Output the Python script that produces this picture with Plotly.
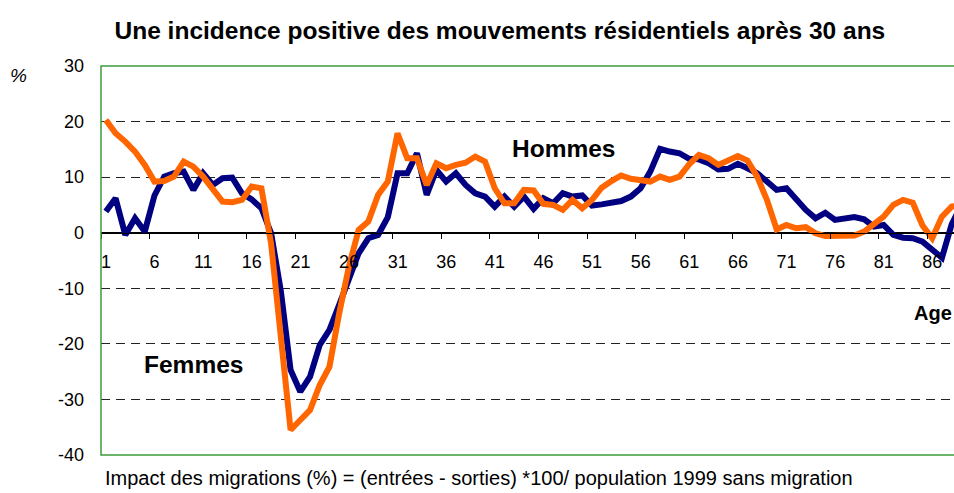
import plotly.graph_objects as go

ages = list(range(1, 90))

hommes = [3.8, 6.2, -0.4, 2.6, 0.2, 6.7, 10.1, 10.7, 11.0, 7.7,
          10.7, 8.6, 9.8, 9.9, 7.1, 6.0, 4.4, -0.1, -10.5, -24.7,
          -28.6, -25.9, -20.2, -17.5, -13.0, -8.5, -3.7, -1.0, -0.4, 2.8,
          10.7, 10.7, 14.3, 6.8, 11.3, 9.2, 10.7, 8.6, 7.1, 6.5,
          4.7, 6.5, 4.7, 6.5, 4.3, 6.2, 5.3, 7.1, 6.5, 6.7,
          4.9, 5.1, 5.3, 5.7, 6.5, 8.0, 11.0, 15.1, 14.6, 14.3,
          13.3, 13.2, 12.5, 11.4, 11.5, 12.4, 11.6, 10.7, 9.2, 7.7,
          8.0, 5.9, 4.1, 2.6, 3.6, 2.3, 2.6, 2.8, 2.4, 1.1,
          1.4, -0.4, -0.9, -1.0, -1.6, -3.1, -4.5, 1.5, 5.0]

femmes = [20.3, 17.9, 16.4, 14.6, 12.2, 9.2, 9.3, 10.1, 12.8, 11.9,
          10.1, 8.0, 5.6, 5.5, 5.9, 8.3, 8.0, -2.0, -20.0, -35.5,
          -33.7, -31.9, -27.4, -24.1, -14.5, -6.1, 0.5, 2.0, 6.8, 9.2,
          17.9, 13.4, 13.4, 8.6, 12.5, 11.6, 12.2, 12.6, 13.7, 12.8,
          8.0, 5.3, 5.3, 7.7, 7.6, 5.2, 5.0, 4.1, 5.9, 4.4,
          5.9, 8.1, 9.3, 10.3, 9.7, 9.5, 9.2, 10.1, 9.5, 10.1,
          12.3, 14.0, 13.4, 12.2, 13.0, 13.8, 13.0, 10.1, 5.9, 0.6,
          1.4, 0.8, 1.0, -0.1, -0.6, -0.6, -0.7, -0.5, 0.2, 1.4,
          2.9, 5.0, 5.9, 5.4, 1.3, -1.0, 2.9, 4.7, 5.0]

x_labels = [str(a) for a in range(1, 90, 5)]
x_label_pos = [a - 0.5 for a in range(1, 90, 5)]
y_ticks = [-40, -30, -20, -10, 0, 10, 20, 30]
y_labels = [str(v) for v in y_ticks]

FONT = "Liberation Sans, Arial, sans-serif"
GREEN = "#3c9a3c"

fig = go.Figure()
fig.add_trace(go.Scatter(x=ages, y=hommes, mode="lines", name="Hommes",
                         line=dict(color="#000080", width=6), showlegend=False))
fig.add_trace(go.Scatter(x=ages, y=femmes, mode="lines", name="Femmes",
                         line=dict(color="#FF6600", width=6), showlegend=False))

fig.update_layout(
    width=954, height=493,
    margin=dict(l=101, r=0, t=66, b=38),
    paper_bgcolor="white", plot_bgcolor="white",
    font=dict(family=FONT, size=18, color="black"),
    title=dict(text="<b>Une incidence positive des mouvements résidentiels après 30 ans</b>",
               x=0.524, xanchor="center", xref="container",
               y=1 - 30 / 493, yanchor="middle", yref="container",
               font=dict(size=24.5, family=FONT, color="black")),
    xaxis=dict(range=[0.5, 88.24], anchor="free", position=40 / 70,
               tickmode="array", tickvals=x_label_pos, ticktext=x_labels,
               ticks="outside", ticklen=5, tickcolor="black", tickwidth=1,
               ticklabelshift=5, ticklabelstandoff=8,
               showline=True, linecolor="black", linewidth=1,
               showgrid=False, zeroline=False,
               tickfont=dict(size=18, family=FONT)),
    yaxis=dict(range=[-40, 30], tickmode="array", tickvals=y_ticks, ticktext=y_labels,
               showgrid=True, gridcolor="#222222", gridwidth=1, griddash="9px,6px",
               zeroline=True, zerolinecolor="black", zerolinewidth=1,
               showline=False, ticks="", ticklabelstandoff=16,
               tickfont=dict(size=18, family=FONT)),
    shapes=[dict(type="rect", xref="paper", yref="paper", x0=0, x1=1.02, y0=0, y1=1,
                 line=dict(color=GREEN, width=1.5), layer="above")],
    annotations=[
        dict(text="<b>Hommes</b>", x=48.1, y=15.2, xref="x", yref="y",
             showarrow=False, font=dict(size=24.5, family=FONT)),
        dict(text="<b>Femmes</b>", x=10.0, y=-23.8, xref="x", yref="y",
             showarrow=False, font=dict(size=24.5, family=FONT)),
        dict(text="<b>Age</b>", x=1, y=-14.4, xref="paper", yref="y",
             xanchor="right", showarrow=False, font=dict(size=20, family=FONT)),
        dict(text="<i>%</i>", x=(8 - 101) / 853, y=(455 - 63) / 389, xref="paper", yref="paper",
             showarrow=False, font=dict(size=19, family=FONT)),
        dict(text="Impact des migrations (%) = (entrées - sorties) *100/ population 1999 sans migration",
             x=(103 - 101) / 853, y=(455 - 478) / 389, xref="paper", yref="paper",
             xanchor="left", yanchor="middle", showarrow=False,
             font=dict(size=20, family=FONT)),
    ],
)

fig.write_html("out.html", config={"displayModeBar": False},
               post_script="document.body.style.margin='0';")
